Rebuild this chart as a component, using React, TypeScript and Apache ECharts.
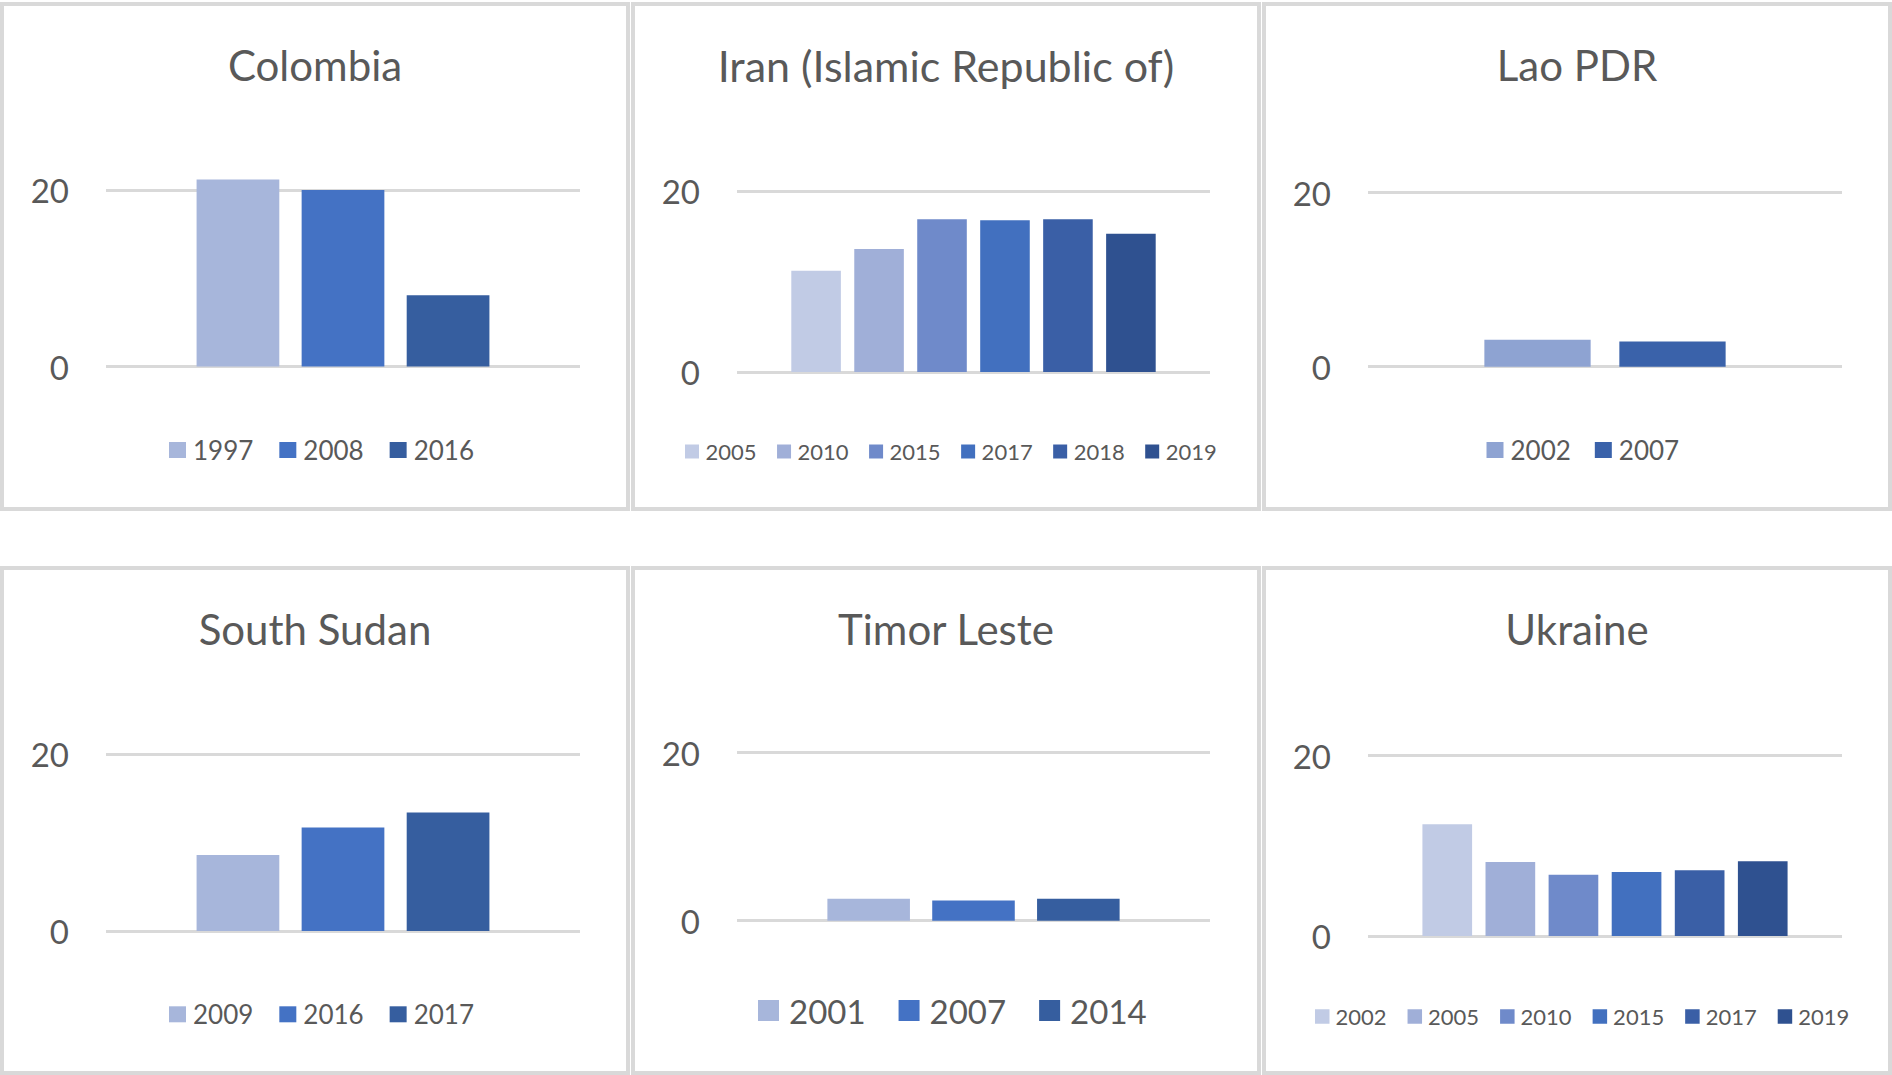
import React, { useEffect, useRef } from "react";
import * as echarts from "echarts";

const FONT = "Lato, Carlito, Calibri, 'Noto Sans', sans-serif";
const TEXT_COLOR = "#595959";
const GRID_COLOR = "#d9d9d9";

// ---- data ----
const colombiaYears = ["1997", "2008", "2016"];
const colombiaValues = [21.2, 20.0, 8.1];

const iranYears = ["2005", "2010", "2015", "2017", "2018", "2019"];
const iranValues = [11.2, 13.6, 16.9, 16.8, 16.9, 15.3];

const laoYears = ["2002", "2007"];
const laoValues = [3.1, 2.9];

const southSudanYears = ["2009", "2016", "2017"];
const southSudanValues = [8.6, 11.7, 13.4];

const timorYears = ["2001", "2007", "2014"];
const timorValues = [2.6, 2.4, 2.6];

const ukraineYears = ["2002", "2005", "2010", "2015", "2017", "2019"];
const ukraineValues = [12.4, 8.2, 6.8, 7.1, 7.3, 8.3];

const yMin = 0;
const yMax = 25;
const yInterval = 20;

// ---- palettes ----
const blue3 = ["#A7B6DB", "#4472C4", "#365E9F"];
const blue6 = ["#C1CBE5", "#A0AFD8", "#6F8ACA", "#4270BF", "#3A5FA6", "#2F5190"];
const blue2 = ["#8EA3D2", "#3A62AA"];

type PanelCfg = {
  title: string;
  titleSize: number;
  years: string[];
  values: number[];
  colors: string[];
  x: number;
  y: number;
  gridTop: number;
  gridBottom: number;
  gridWidth: number;
  legendLeft: number;
  legendCy: number;
  iconW: number;
  iconH: number;
  legendFont: number;
  legendGap: number;
  legendPad: number;
};

const PANEL_W = 630;
const PANEL_H = 509;

const panels: PanelCfg[] = [
  {
    title: "Colombia", titleSize: 42, years: colombiaYears, values: colombiaValues, colors: blue3,
    x: 0, y: 2, gridTop: 144, gridBottom: 364.6, gridWidth: 474,
    legendLeft: 169, legendCy: 448, iconW: 17, iconH: 16, legendFont: 26, legendGap: 26, legendPad: 2,
  },
  {
    title: "Iran (Islamic Republic of)", titleSize: 43, years: iranYears, values: iranValues, colors: blue6,
    x: 631, y: 2, gridTop: 144, gridBottom: 370, gridWidth: 473,
    legendLeft: 54, legendCy: 449.5, iconW: 14, iconH: 14, legendFont: 22, legendGap: 20.5, legendPad: 1.5,
  },
  {
    title: "Lao PDR", titleSize: 42, years: laoYears, values: laoValues, colors: blue2,
    x: 1262, y: 2, gridTop: 147, gridBottom: 364.7, gridWidth: 474,
    legendLeft: 224.5, legendCy: 448, iconW: 17, iconH: 16, legendFont: 26, legendGap: 24, legendPad: 2,
  },
  {
    title: "South Sudan", titleSize: 42, years: southSudanYears, values: southSudanValues, colors: blue3,
    x: 0, y: 566, gridTop: 144, gridBottom: 365, gridWidth: 474,
    legendLeft: 169, legendCy: 448.3, iconW: 17, iconH: 16, legendFont: 26, legendGap: 26, legendPad: 2,
  },
  {
    title: "Timor Leste", titleSize: 42, years: timorYears, values: timorValues, colors: blue3,
    x: 631, y: 566, gridTop: 144.7, gridBottom: 354.7, gridWidth: 473,
    legendLeft: 127, legendCy: 444.5, iconW: 21, iconH: 21, legendFont: 33, legendGap: 33, legendPad: 5,
  },
  {
    title: "Ukraine", titleSize: 42, years: ukraineYears, values: ukraineValues, colors: blue6,
    x: 1262, y: 566, gridTop: 144.6, gridBottom: 370, gridWidth: 474,
    legendLeft: 53, legendCy: 450.5, iconW: 14.5, iconH: 14.5, legendFont: 22, legendGap: 21, legendPad: 1,
  },
];

function buildOption(p: PanelCfg): any {
  const n = p.years.length;
  // Excel-like: gap width 219% of bar width, overlap -27%
  const catGap = (2.19 / (n + (n - 1) * 0.27 + 2.19)) * 100;
  const legendH = Math.max(p.iconH, p.legendFont);
  return {
    animation: false,
    backgroundColor: "#ffffff",
    title: {
      text: p.title,
      left: "center",
      top: 63 - p.titleSize / 2,
      padding: 0,
      textStyle: {
        fontFamily: FONT,
        fontSize: p.titleSize,
        lineHeight: p.titleSize,
        fontWeight: "normal",
        color: TEXT_COLOR,
      },
    },
    graphic: [
      {
        type: "rect",
        silent: true,
        z: 100,
        shape: { x: 2, y: 2, width: PANEL_W - 4, height: PANEL_H - 4 },
        style: { fill: "none", stroke: GRID_COLOR, lineWidth: 4 },
      },
    ],
    legend: {
      show: true,
      selectedMode: false,
      left: p.legendLeft,
      top: p.legendCy - legendH / 2,
      padding: 0,
      orient: "horizontal",
      icon: "rect",
      itemWidth: p.iconW,
      itemHeight: p.iconH,
      itemGap: p.legendGap,
      data: p.years,
      textStyle: {
        fontFamily: FONT,
        fontSize: p.legendFont,
        lineHeight: p.legendFont,
        color: TEXT_COLOR,
        padding: [0, 0, 0, p.legendPad],
      },
    },
    grid: {
      left: 106,
      top: p.gridTop,
      width: p.gridWidth,
      height: p.gridBottom - p.gridTop,
      containLabel: false,
    },
    xAxis: {
      type: "category",
      data: [""],
      axisLine: { show: false },
      axisTick: { show: false },
      axisLabel: { show: false },
      splitLine: { show: false },
    },
    yAxis: {
      type: "value",
      min: yMin,
      max: yMax,
      interval: yInterval,
      axisLine: { show: false },
      axisTick: { show: false },
      axisLabel: {
        showMaxLabel: false,
        fontFamily: FONT,
        fontSize: 33,
        color: TEXT_COLOR,
        margin: 37,
      },
      splitLine: {
        show: true,
        showMaxLine: false,
        lineStyle: { color: GRID_COLOR, width: 3 },
      },
    },
    series: p.years.map((yr, i) => ({
      type: "bar",
      name: yr,
      data: [p.values[i]],
      itemStyle: { color: p.colors[i] },
      barGap: "27%",
      barCategoryGap: catGap.toFixed(2) + "%",
      silent: true,
    })),
  };
}

function Panel({ cfg }: { cfg: PanelCfg }) {
  const ref = useRef<HTMLDivElement | null>(null);
  useEffect(() => {
    if (!ref.current) return;
    const chart = echarts.init(ref.current, null, { renderer: "svg" });
    chart.setOption(buildOption(cfg));
    return () => {
      chart.dispose();
    };
  }, [cfg]);
  return (
    <div
      ref={ref}
      style={{
        position: "absolute",
        left: cfg.x,
        top: cfg.y,
        width: PANEL_W,
        height: PANEL_H,
      }}
    />
  );
}

export default function App() {
  return (
    <div
      style={{
        position: "fixed",
        left: 0,
        top: 0,
        width: 1892,
        height: 1075,
        background: "#ffffff",
        overflow: "hidden",
      }}
    >
      {panels.map((p) => (
        <Panel key={p.title} cfg={p} />
      ))}
    </div>
  );
}
